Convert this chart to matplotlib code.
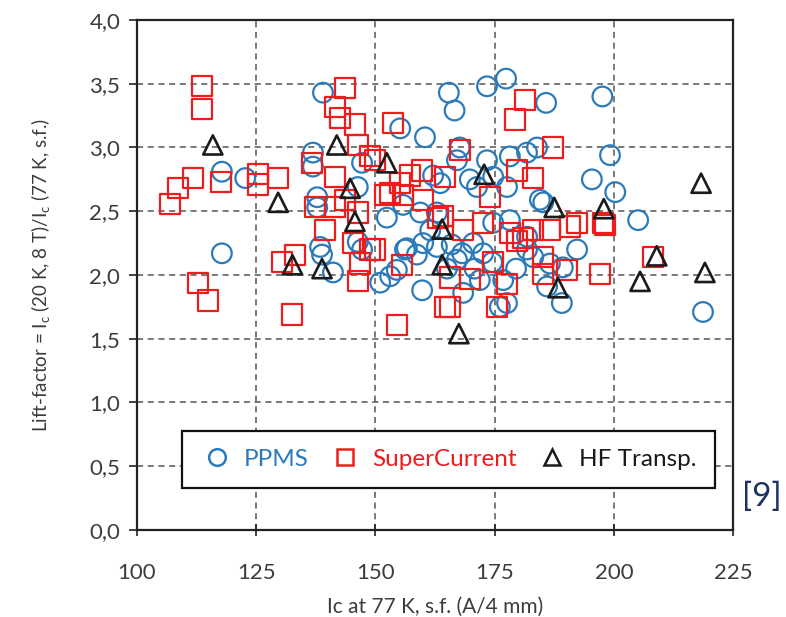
import matplotlib
matplotlib.use("Agg")
import matplotlib.pyplot as plt
from matplotlib.lines import Line2D

plt.rcParams['font.family'] = ['Lato', 'DejaVu Sans']

# PPMS measurements (Ic at 77 K, lift factor)
ppms_ic = [117.8, 117.8, 122.7, 139.0, 136.9, 136.9, 137.8, 137.8, 138.4, 138.8,
           141.1, 147.2, 146.3, 146.3, 147.2, 152.4, 155.2, 160.4, 165.4, 166.6,
           173.4, 177.4, 185.8, 197.6, 199.2, 195.4, 200.3, 205.1, 218.7, 162.1,
           163.6, 156.2, 158.7, 160.0, 151.0, 153.1, 154.5, 159.8, 162.9, 167.7,
           173.4, 178.2, 181.8, 183.9, 169.8, 171.3, 174.7, 177.6, 185.2, 155.8,
           159.4, 178.2, 174.7, 181.8, 156.6, 162.9, 166.0, 168.2, 170.5, 172.6,
           174.5, 167.1, 168.4, 171.9, 176.8, 176.1, 177.6, 181.8, 183.1, 186.6,
           192.3, 189.3, 189.1, 186.0, 167.1, 184.5, 165.0, 170.8, 161.5, 179.5]
ppms_lf = [2.81, 2.17, 2.76, 3.43, 2.96, 2.85, 2.61, 2.53, 2.22, 2.16,
           2.02, 2.88, 2.69, 2.26, 2.20, 2.45, 3.15, 3.08, 3.43, 3.29,
           3.48, 3.54, 3.35, 3.40, 2.94, 2.75, 2.65, 2.43, 1.71, 2.78,
           2.72, 2.20, 2.16, 2.25, 1.94, 1.99, 2.04, 1.88, 2.49, 3.00,
           2.90, 2.93, 2.96, 3.00, 2.75, 2.69, 2.77, 2.69, 2.57, 2.55,
           2.49, 2.43, 2.41, 2.30, 2.21, 2.22, 2.24, 2.17, 2.25, 2.17,
           2.10, 2.12, 1.86, 1.96, 1.96, 1.75, 1.78, 2.20, 2.14, 2.09,
           2.20, 2.06, 1.78, 1.91, 2.90, 2.59, 2.05, 2.05, 2.35, 2.05]

# SuperCurrent measurements
sc_ic = [113.6, 113.6, 111.7, 117.6, 108.6, 106.9, 125.4, 125.4, 129.6, 112.8,
         114.9, 130.4, 133.1, 132.5, 143.6, 141.5, 142.6, 145.7, 153.7, 146.3,
         136.7, 148.9, 141.5, 153.1, 157.3, 159.8, 155.2, 143.6, 137.3, 141.5,
         146.3, 139.4, 145.3, 148.9, 146.8, 146.3, 155.6, 154.5, 164.6, 164.2,
         167.7, 187.2, 149.9, 164.6, 152.0, 155.8, 160.0, 163.1, 174.0, 179.7,
         183.1, 172.6, 168.4, 178.2, 179.7, 181.0, 183.1, 186.6, 190.8, 192.3,
         197.7, 149.9, 165.6, 169.8, 174.7, 177.6, 185.2, 185.2, 190.2, 197.1,
         165.6, 175.5, 181.4, 179.3, 208.2, 198.1]
sc_lf = [3.48, 3.30, 2.76, 2.73, 2.68, 2.56, 2.79, 2.71, 2.76, 1.94,
         1.80, 2.10, 2.16, 1.69, 3.47, 3.32, 3.23, 3.18, 3.19, 3.02,
         2.88, 2.93, 2.77, 2.64, 2.78, 2.82, 2.72, 2.59, 2.53, 2.53,
         2.49, 2.35, 2.25, 2.20, 2.09, 1.95, 2.08, 1.61, 1.75, 2.46,
         2.98, 3.00, 2.90, 2.77, 2.63, 2.63, 2.59, 2.45, 2.61, 2.82,
         2.76, 2.41, 2.35, 2.33, 2.27, 2.29, 2.35, 2.35, 2.38, 2.41,
         2.41, 2.20, 1.98, 1.97, 2.10, 1.93, 2.14, 2.01, 2.04, 2.01,
         1.75, 1.75, 3.37, 3.22, 2.14, 2.39]

# HF transport measurements
hf_ic = [115.9, 129.6, 132.6, 138.8, 141.9, 144.7, 145.7, 152.4, 164.0, 164.0,
         167.5, 172.8, 187.5, 188.3, 197.9, 205.5, 209.0, 218.3, 219.1]
hf_lf = [3.02, 2.57, 2.08, 2.05, 3.02, 2.68, 2.42, 2.88, 2.36, 2.08,
         1.54, 2.79, 2.53, 1.90, 2.52, 1.95, 2.15, 2.72, 2.02]

x_ticks = [100, 125, 150, 175, 200, 225]
y_ticks = [0.0, 0.5, 1.0, 1.5, 2.0, 2.5, 3.0, 3.5, 4.0]

blue = '#2b7bba'
red = '#ee1c1c'
black = '#1a1a1a'
text_gray = '#3c3c3c'

fig = plt.figure(figsize=(7.86, 6.17), dpi=100)
ax = fig.add_axes([0.1743, 0.141, 0.7583, 0.8266])

ax.scatter(ppms_ic, ppms_lf, s=200, marker='o', facecolors='none',
           edgecolors=blue, linewidths=1.6, zorder=3)
ax.scatter(sc_ic, sc_lf, s=210, marker='s', facecolors='none',
           edgecolors=red, linewidths=1.6, zorder=4)
ax.scatter(hf_ic, hf_lf, s=190, marker='^', facecolors='none',
           edgecolors=black, linewidths=1.9, zorder=5)

ax.set_xlim(100, 225)
ax.set_ylim(0, 4)
ax.set_xticks(x_ticks)
ax.set_yticks(y_ticks)
ax.set_yticklabels([f"{v:.1f}".replace('.', ',') for v in y_ticks])
ax.set_xticklabels([str(v) for v in x_ticks])
ax.tick_params(axis='both', direction='inout', length=8, width=1.2,
               labelsize=16, labelcolor=text_gray, colors='#222222')
ax.tick_params(axis='y', direction='out', length=6, pad=6)
ax.tick_params(axis='x', pad=20)

ax.grid(True, color='#555555', linestyle=(0, (4, 3)), linewidth=1.1, zorder=0)
ax.set_axisbelow(True)
for sp in ax.spines.values():
    sp.set_linewidth(1.6)
    sp.set_color('#222222')

ax.set_xlabel('Ic at 77 K, s.f. (A/4 mm)', fontsize=15, color=text_gray, labelpad=10)
ax.set_ylabel(r'Lift-factor = I$_\mathregular{c}$ (20 K, 8 T)/I$_\mathregular{c}$ (77 K, s.f.)',
              fontsize=13.5, color=text_gray, labelpad=26)

handles = [
    Line2D([], [], linestyle='none', marker='o', markersize=12, markerfacecolor='none',
           markeredgecolor=blue, markeredgewidth=1.8),
    Line2D([], [], linestyle='none', marker='s', markersize=12, markerfacecolor='none',
           markeredgecolor=red, markeredgewidth=1.8),
    Line2D([], [], linestyle='none', marker='^', markersize=12, markerfacecolor='none',
           markeredgecolor=black, markeredgewidth=1.8),
]
labels = ['PPMS', 'SuperCurrent', 'HF Transp.']
leg = ax.legend(handles, labels, ncol=3, loc='lower left',
                bbox_to_anchor=(0.0755, 0.0824, 0.894, 0.143), mode='expand',
                borderaxespad=0, fontsize=17.5, frameon=True, fancybox=False,
                handletextpad=0.4, columnspacing=0.6, borderpad=0.75,
                handlelength=1.4)
leg.get_frame().set_edgecolor('#111111')
leg.get_frame().set_linewidth(1.6)
leg.get_frame().set_facecolor('white')
leg.get_frame().set_alpha(1)
leg.set_zorder(6)
for t, c in zip(leg.get_texts(), [blue, red, black]):
    t.set_color(c)

fig.text(0.969, 0.1945, '[9]', fontsize=24, color='#1d3461', ha='center', va='center')

fig.savefig('out.png', dpi=100)
